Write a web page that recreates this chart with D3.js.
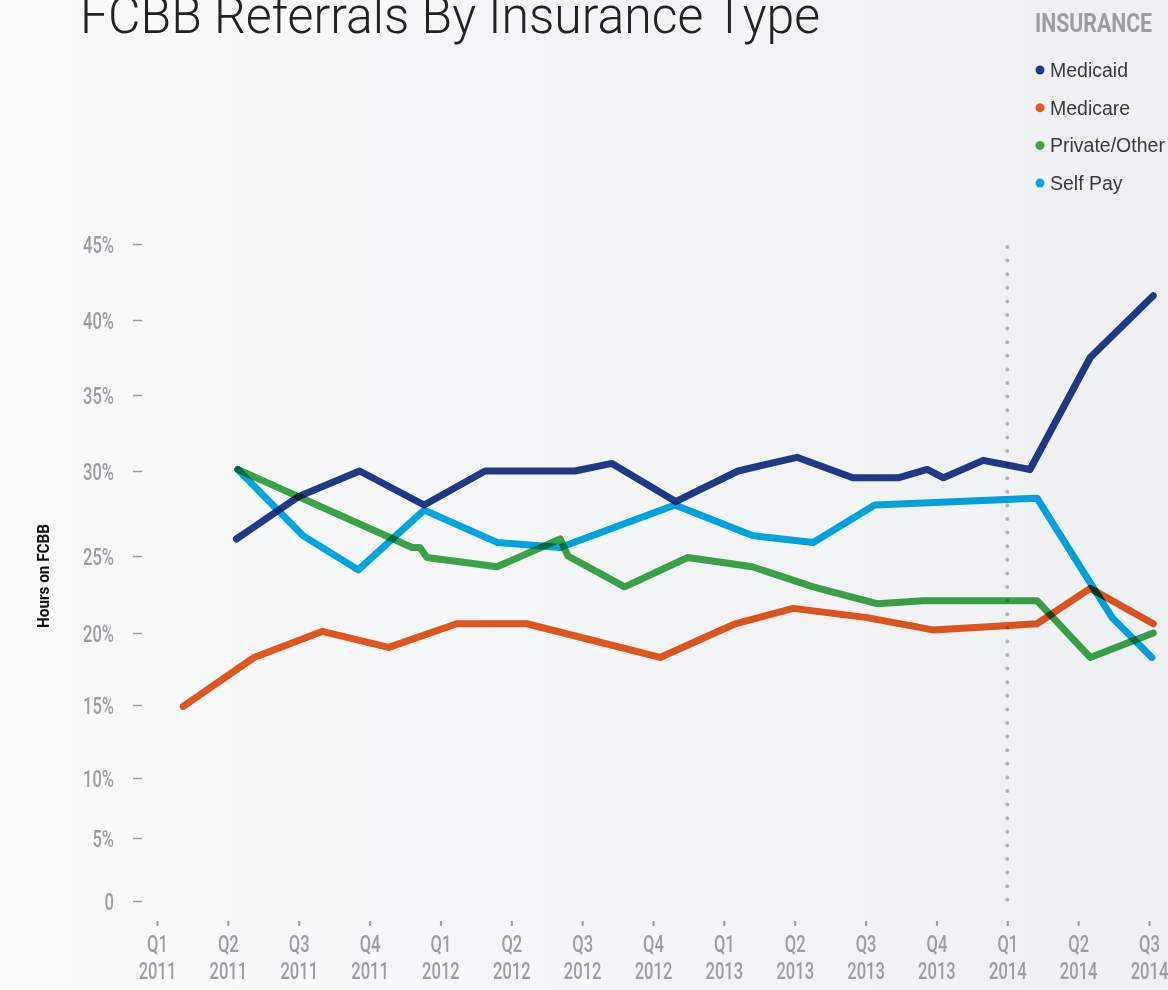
<!DOCTYPE html>
<html>
<head>
<meta charset="utf-8">
<script src="https://cdn.jsdelivr.net/npm/d3@7"></script>
<style>
  body { margin: 0; background: #f4f5f6; }
  svg { display: block; }
  .lbl { font-family: Roboto, sans-serif; font-weight: 500; fill: #9c9da2; }
</style>
</head>
<body>
<div id="chart"></div>
<script>
// quarters on the x axis (index 0 = Q1 2011)
var quarters = ['Q1','Q2','Q3','Q4','Q1','Q2','Q3','Q4','Q1','Q2','Q3','Q4','Q1','Q2','Q3'];
var years = ['2011','2011','2011','2011','2012','2012','2012','2012','2013','2013','2013','2013','2014','2014','2014'];

// y ticks (the original axis is not evenly spaced)
var yTicks = [0, 5, 10, 15, 20, 25, 30, 35, 40, 45];

var seriesNames = ['Medicaid', 'Medicare', 'Private/Other', 'Self Pay'];
var seriesColors = ['#213b8b', '#e8571f', '#3ba749', '#00a9e6'];

// [quarter position, percent]
var medicaid = [[1.12,26.0],[2.0,28.5],[2.86,30.0],[3.77,28.0],[4.63,30.0],[5.9,30.0],[6.42,30.5],
  [7.32,28.2],[8.2,30.0],[9.03,30.9],[9.82,29.6],[10.46,29.6],[10.87,30.1],[11.1,29.6],
  [11.66,30.7],[12.32,30.1],[13.17,37.5],[14.06,41.6]];
var medicare = [[0.37,14.9],[1.37,18.3],[2.33,20.1],[3.27,19.0],[4.23,20.6],[5.22,20.6],[7.1,18.3],
  [8.16,20.6],[8.98,21.6],[10.02,21.0],[10.95,20.2],[12.42,20.6],[13.17,22.9],[14.06,20.6]];
var privateOther = [[1.14,30.1],[3.6,25.5],[3.71,25.5],[3.81,24.9],[4.8,24.3],[5.69,26.0],[5.8,25.0],
  [6.6,23.0],[7.49,24.9],[8.4,24.3],[9.26,23.0],[10.16,21.9],[10.81,22.1],[12.42,22.1],
  [13.17,18.3],[14.06,20.0]];
var selfPay = [[1.14,30.1],[2.06,26.2],[2.84,24.1],[3.77,27.7],[4.8,25.8],[5.69,25.5],[7.31,28.0],
  [8.4,26.2],[9.26,25.8],[10.13,28.0],[12.42,28.4],[13.48,21.0],[14.04,18.3]];

var allSeries = [medicaid, medicare, privateOther, selfPay];
var markerQuarter = 12; // dotted line at Q1 2014

var W = 1168, H = 990;
var squeeze = 0.72; // fake a condensed face

var svg = d3.select('#chart').append('svg')
    .attr('width', W).attr('height', H);

// soft background gradient
var grad = svg.append('defs').append('linearGradient')
    .attr('id', 'bg').attr('x1', 0).attr('x2', 1).attr('y1', 0).attr('y2', 0);
grad.append('stop').attr('offset', 0).attr('stop-color', '#fafbfb');
grad.append('stop').attr('offset', 1).attr('stop-color', '#eff0f2');
svg.append('rect').attr('width', W).attr('height', H).attr('fill', 'url(#bg)');

var x = d3.scaleLinear().domain([0, 14]).range([157, 1149]);
var y = d3.scaleLinear()
    .domain(yTicks)
    .range([901, 838, 778, 705, 633, 556, 471, 395, 320, 244]);

// title (cut off at the top like the original)
svg.append('text')
    .attr('x', 80).attr('y', 33)
    .attr('textLength', 740).attr('lengthAdjust', 'spacingAndGlyphs')
    .style('font-family', 'Roboto, sans-serif')
    .style('font-weight', 300)
    .style('font-size', '52px')
    .style('fill', '#222')
    .text('FCBB Referrals By Insurance Type');

// y axis
var yAxis = svg.append('g')
    .attr('transform', 'translate(142,0)')
    .call(d3.axisLeft(y).tickValues(yTicks).tickSize(9).tickFormat(''));
yAxis.select('.domain').remove();
yAxis.selectAll('line').attr('stroke', '#9c9da2').attr('stroke-width', 1.5);
yAxis.selectAll('.tick').append('text')
    .attr('class', 'lbl')
    .attr('transform', 'translate(-28,0) scale(' + squeeze + ',1)')
    .attr('text-anchor', 'end')
    .attr('dy', '0.35em')
    .style('font-size', '23px')
    .text(function(d){ return d === 0 ? '0' : d + '%'; });

// x axis
var xAxis = svg.append('g')
    .attr('transform', 'translate(0,921)')
    .call(d3.axisBottom(x).tickValues(d3.range(quarters.length)).tickSize(5).tickFormat(''));
xAxis.select('.domain').remove();
xAxis.selectAll('line').attr('stroke', '#9c9da2').attr('stroke-width', 2);
xAxis.selectAll('.tick').each(function(d){
    var t = d3.select(this).append('text').attr('class', 'lbl')
        .attr('transform', 'scale(' + squeeze + ',1)')
        .attr('text-anchor', 'middle').style('font-size', '23px');
    t.append('tspan').attr('x', 0).attr('y', 31).text(quarters[d]);
    t.append('tspan').attr('x', 0).attr('y', 58).text(years[d]);
});

// y axis title
svg.append('text')
    .attr('transform', 'translate(49,576) rotate(-90)')
    .attr('text-anchor', 'middle')
    .attr('textLength', 104).attr('lengthAdjust', 'spacingAndGlyphs')
    .style('font-family', 'Roboto, sans-serif')
    .style('font-weight', 'bold')
    .style('font-size', '17px')
    .style('fill', '#111')
    .text('Hours on FCBB');

// dotted marker line
svg.append('line')
    .attr('x1', x(markerQuarter)).attr('x2', x(markerQuarter))
    .attr('y1', y(45) + 3).attr('y2', y(0))
    .attr('stroke', '#b3b4b6').attr('stroke-width', 4)
    .attr('stroke-linecap', 'round')
    .attr('stroke-dasharray', '0 13.6');

// lines
var line = d3.line()
    .x(function(d){ return x(d[0]); })
    .y(function(d){ return y(d[1]); });

svg.append('g').selectAll('path')
    .data(allSeries)
    .enter()
    .append('path')
    .attr('d', line)
    .attr('fill', 'none')
    .attr('stroke', function(d, i){ return seriesColors[i]; })
    .attr('stroke-width', 7)
    .attr('stroke-linejoin', 'round')
    .attr('stroke-linecap', 'round')
    .style('mix-blend-mode', 'multiply');

// legend
var legend = svg.append('g');
legend.append('text')
    .attr('x', 1035).attr('y', 32)
    .attr('textLength', 117).attr('lengthAdjust', 'spacingAndGlyphs')
    .style('font-family', 'Roboto, sans-serif')
    .style('font-weight', 'bold')
    .style('font-size', '26px')
    .style('fill', '#9c9da2')
    .text('INSURANCE');

var items = legend.selectAll('g.item')
    .data(seriesNames)
    .enter()
    .append('g')
    .attr('transform', function(d, i){ return 'translate(1040,' + (70 + i * 37.7) + ')'; });
items.append('circle').attr('r', 4.5)
    .attr('fill', function(d, i){ return seriesColors[i]; });
items.append('text')
    .attr('x', 10).attr('dy', '0.35em')
    .style('font-family', '"Liberation Sans", sans-serif')
    .style('font-size', '19.5px')
    .style('fill', '#3a3a3c')
    .text(function(d){ return d; });
</script>
</body>
</html>
